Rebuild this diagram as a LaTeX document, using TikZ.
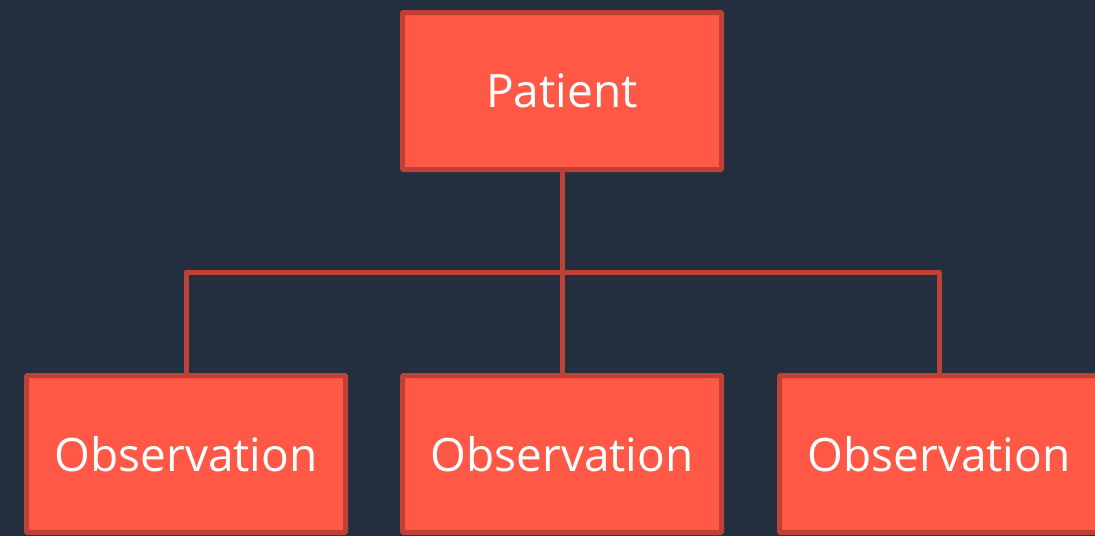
\documentclass[tikz,border=0pt]{standalone}
\usepackage{fontspec}
\setmainfont{Open Sans}
\usetikzlibrary{positioning}
\definecolor{squid}{HTML}{232F3E}
\definecolor{boxfill}{HTML}{FF5846}
\definecolor{boxline}{HTML}{BF4034}
\tikzset {
  % resource box
  entity/.style = {
    draw = boxline,
    fill = boxfill,
    line width = 5pt,
    rounded corners = 1pt,
    minimum width = 319pt,
    minimum height = 157pt,
    text = white,
    font = \fontsize{46}{50}\selectfont
  },
  % reference line
  link/.style = {
    draw = boxline,
    line width = 5pt,
    line join = round
  },
  node distance = 201pt
}
\begin{document}
\begin{tikzpicture}
    \fill[squid] (0,0) rectangle (1095pt,-536pt);
    \useasboundingbox (0,0) rectangle (1095pt,-536pt);

    \node[entity] (patient) at (562pt,-91pt) {Patient};
    \coordinate[below=100pt of patient] (branch);

    \node[entity] (obs mid) [below=of patient] {Observation};
    \node[entity] (obs left) [left=52pt of obs mid] {Observation};
    \node[entity] (obs right) [right=53pt of obs mid] {Observation};

    % references
    \draw[link] (patient) -- (branch);
    \draw[link] (branch) -- (obs mid);
    \draw[link] (obs left.north)
      |- (branch)
      -| (obs right.north);
\end{tikzpicture}
\end{document}
